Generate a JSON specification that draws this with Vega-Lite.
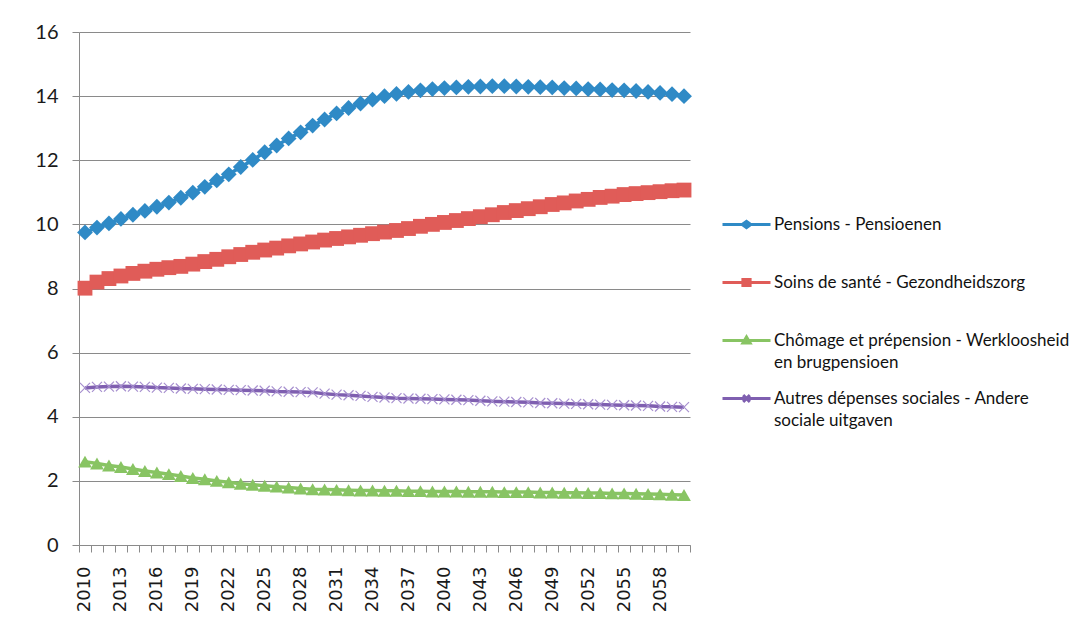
{
  "$schema": "https://vega.github.io/schema/vega-lite/v6.json",
  "autosize": {"type": "none"},
  "padding": {"left": 79, "top": 32, "right": 393, "bottom": 87},
  "width": 611,
  "height": 513,
  "background": "white",
  "config": {
    "view": {"stroke": null},
    "axis": {"labelColor": "#1a1a1a", "domainColor": "#8a8a8a", "tickColor": "#8a8a8a", "gridColor": "#8a8a8a"}
  },
  "data": {"values": [
{"year":2010,"series":"Pensions - Pensioenen","value":9.75},{"year":2011,"series":"Pensions - Pensioenen","value":9.90},{"year":2012,"series":"Pensions - Pensioenen","value":10.03},{"year":2013,"series":"Pensions - Pensioenen","value":10.17},{"year":2014,"series":"Pensions - Pensioenen","value":10.30},{"year":2015,"series":"Pensions - Pensioenen","value":10.42},{"year":2016,"series":"Pensions - Pensioenen","value":10.55},{"year":2017,"series":"Pensions - Pensioenen","value":10.68},{"year":2018,"series":"Pensions - Pensioenen","value":10.83},{"year":2019,"series":"Pensions - Pensioenen","value":10.99},
{"year":2020,"series":"Pensions - Pensioenen","value":11.17},{"year":2021,"series":"Pensions - Pensioenen","value":11.37},{"year":2022,"series":"Pensions - Pensioenen","value":11.56},{"year":2023,"series":"Pensions - Pensioenen","value":11.79},{"year":2024,"series":"Pensions - Pensioenen","value":12.01},{"year":2025,"series":"Pensions - Pensioenen","value":12.25},{"year":2026,"series":"Pensions - Pensioenen","value":12.46},{"year":2027,"series":"Pensions - Pensioenen","value":12.68},{"year":2028,"series":"Pensions - Pensioenen","value":12.87},{"year":2029,"series":"Pensions - Pensioenen","value":13.08},
{"year":2030,"series":"Pensions - Pensioenen","value":13.27},{"year":2031,"series":"Pensions - Pensioenen","value":13.46},{"year":2032,"series":"Pensions - Pensioenen","value":13.63},{"year":2033,"series":"Pensions - Pensioenen","value":13.77},{"year":2034,"series":"Pensions - Pensioenen","value":13.89},{"year":2035,"series":"Pensions - Pensioenen","value":14.00},{"year":2036,"series":"Pensions - Pensioenen","value":14.07},{"year":2037,"series":"Pensions - Pensioenen","value":14.13},{"year":2038,"series":"Pensions - Pensioenen","value":14.18},{"year":2039,"series":"Pensions - Pensioenen","value":14.22},
{"year":2040,"series":"Pensions - Pensioenen","value":14.25},{"year":2041,"series":"Pensions - Pensioenen","value":14.27},{"year":2042,"series":"Pensions - Pensioenen","value":14.29},{"year":2043,"series":"Pensions - Pensioenen","value":14.30},{"year":2044,"series":"Pensions - Pensioenen","value":14.31},{"year":2045,"series":"Pensions - Pensioenen","value":14.31},{"year":2046,"series":"Pensions - Pensioenen","value":14.30},{"year":2047,"series":"Pensions - Pensioenen","value":14.29},{"year":2048,"series":"Pensions - Pensioenen","value":14.28},{"year":2049,"series":"Pensions - Pensioenen","value":14.27},
{"year":2050,"series":"Pensions - Pensioenen","value":14.25},{"year":2051,"series":"Pensions - Pensioenen","value":14.24},{"year":2052,"series":"Pensions - Pensioenen","value":14.22},{"year":2053,"series":"Pensions - Pensioenen","value":14.21},{"year":2054,"series":"Pensions - Pensioenen","value":14.19},{"year":2055,"series":"Pensions - Pensioenen","value":14.18},{"year":2056,"series":"Pensions - Pensioenen","value":14.16},{"year":2057,"series":"Pensions - Pensioenen","value":14.13},{"year":2058,"series":"Pensions - Pensioenen","value":14.10},{"year":2059,"series":"Pensions - Pensioenen","value":14.06},{"year":2060,"series":"Pensions - Pensioenen","value":14.00},
{"year":2010,"series":"Soins de santé - Gezondheidszorg","value":8.01},{"year":2011,"series":"Soins de santé - Gezondheidszorg","value":8.20},{"year":2012,"series":"Soins de santé - Gezondheidszorg","value":8.31},{"year":2013,"series":"Soins de santé - Gezondheidszorg","value":8.39},{"year":2014,"series":"Soins de santé - Gezondheidszorg","value":8.47},{"year":2015,"series":"Soins de santé - Gezondheidszorg","value":8.54},{"year":2016,"series":"Soins de santé - Gezondheidszorg","value":8.60},{"year":2017,"series":"Soins de santé - Gezondheidszorg","value":8.65},{"year":2018,"series":"Soins de santé - Gezondheidszorg","value":8.69},{"year":2019,"series":"Soins de santé - Gezondheidszorg","value":8.76},
{"year":2020,"series":"Soins de santé - Gezondheidszorg","value":8.84},{"year":2021,"series":"Soins de santé - Gezondheidszorg","value":8.91},{"year":2022,"series":"Soins de santé - Gezondheidszorg","value":8.99},{"year":2023,"series":"Soins de santé - Gezondheidszorg","value":9.06},{"year":2024,"series":"Soins de santé - Gezondheidszorg","value":9.13},{"year":2025,"series":"Soins de santé - Gezondheidszorg","value":9.20},{"year":2026,"series":"Soins de santé - Gezondheidszorg","value":9.26},{"year":2027,"series":"Soins de santé - Gezondheidszorg","value":9.33},{"year":2028,"series":"Soins de santé - Gezondheidszorg","value":9.39},{"year":2029,"series":"Soins de santé - Gezondheidszorg","value":9.45},
{"year":2030,"series":"Soins de santé - Gezondheidszorg","value":9.51},{"year":2031,"series":"Soins de santé - Gezondheidszorg","value":9.56},{"year":2032,"series":"Soins de santé - Gezondheidszorg","value":9.61},{"year":2033,"series":"Soins de santé - Gezondheidszorg","value":9.66},{"year":2034,"series":"Soins de santé - Gezondheidszorg","value":9.71},{"year":2035,"series":"Soins de santé - Gezondheidszorg","value":9.76},{"year":2036,"series":"Soins de santé - Gezondheidszorg","value":9.81},{"year":2037,"series":"Soins de santé - Gezondheidszorg","value":9.87},{"year":2038,"series":"Soins de santé - Gezondheidszorg","value":9.94},{"year":2039,"series":"Soins de santé - Gezondheidszorg","value":10.00},
{"year":2040,"series":"Soins de santé - Gezondheidszorg","value":10.06},{"year":2041,"series":"Soins de santé - Gezondheidszorg","value":10.12},{"year":2042,"series":"Soins de santé - Gezondheidszorg","value":10.18},{"year":2043,"series":"Soins de santé - Gezondheidszorg","value":10.24},{"year":2044,"series":"Soins de santé - Gezondheidszorg","value":10.30},{"year":2045,"series":"Soins de santé - Gezondheidszorg","value":10.37},{"year":2046,"series":"Soins de santé - Gezondheidszorg","value":10.43},{"year":2047,"series":"Soins de santé - Gezondheidszorg","value":10.49},{"year":2048,"series":"Soins de santé - Gezondheidszorg","value":10.55},{"year":2049,"series":"Soins de santé - Gezondheidszorg","value":10.62},
{"year":2050,"series":"Soins de santé - Gezondheidszorg","value":10.67},{"year":2051,"series":"Soins de santé - Gezondheidszorg","value":10.73},{"year":2052,"series":"Soins de santé - Gezondheidszorg","value":10.78},{"year":2053,"series":"Soins de santé - Gezondheidszorg","value":10.84},{"year":2054,"series":"Soins de santé - Gezondheidszorg","value":10.88},{"year":2055,"series":"Soins de santé - Gezondheidszorg","value":10.93},{"year":2056,"series":"Soins de santé - Gezondheidszorg","value":10.96},{"year":2057,"series":"Soins de santé - Gezondheidszorg","value":10.99},{"year":2058,"series":"Soins de santé - Gezondheidszorg","value":11.02},{"year":2059,"series":"Soins de santé - Gezondheidszorg","value":11.05},{"year":2060,"series":"Soins de santé - Gezondheidszorg","value":11.07},
{"year":2010,"series":"Chômage et prépension - Werkloosheid en brugpensioen","value":2.60},{"year":2011,"series":"Chômage et prépension - Werkloosheid en brugpensioen","value":2.54},{"year":2012,"series":"Chômage et prépension - Werkloosheid en brugpensioen","value":2.48},{"year":2013,"series":"Chômage et prépension - Werkloosheid en brugpensioen","value":2.43},{"year":2014,"series":"Chômage et prépension - Werkloosheid en brugpensioen","value":2.37},{"year":2015,"series":"Chômage et prépension - Werkloosheid en brugpensioen","value":2.31},{"year":2016,"series":"Chômage et prépension - Werkloosheid en brugpensioen","value":2.26},{"year":2017,"series":"Chômage et prépension - Werkloosheid en brugpensioen","value":2.21},{"year":2018,"series":"Chômage et prépension - Werkloosheid en brugpensioen","value":2.15},{"year":2019,"series":"Chômage et prépension - Werkloosheid en brugpensioen","value":2.09},
{"year":2020,"series":"Chômage et prépension - Werkloosheid en brugpensioen","value":2.05},{"year":2021,"series":"Chômage et prépension - Werkloosheid en brugpensioen","value":2.00},{"year":2022,"series":"Chômage et prépension - Werkloosheid en brugpensioen","value":1.96},{"year":2023,"series":"Chômage et prépension - Werkloosheid en brugpensioen","value":1.91},{"year":2024,"series":"Chômage et prépension - Werkloosheid en brugpensioen","value":1.88},{"year":2025,"series":"Chômage et prépension - Werkloosheid en brugpensioen","value":1.85},{"year":2026,"series":"Chômage et prépension - Werkloosheid en brugpensioen","value":1.82},{"year":2027,"series":"Chômage et prépension - Werkloosheid en brugpensioen","value":1.79},{"year":2028,"series":"Chômage et prépension - Werkloosheid en brugpensioen","value":1.76},{"year":2029,"series":"Chômage et prépension - Werkloosheid en brugpensioen","value":1.74},
{"year":2030,"series":"Chômage et prépension - Werkloosheid en brugpensioen","value":1.73},{"year":2031,"series":"Chômage et prépension - Werkloosheid en brugpensioen","value":1.72},{"year":2032,"series":"Chômage et prépension - Werkloosheid en brugpensioen","value":1.71},{"year":2033,"series":"Chômage et prépension - Werkloosheid en brugpensioen","value":1.70},{"year":2034,"series":"Chômage et prépension - Werkloosheid en brugpensioen","value":1.70},{"year":2035,"series":"Chômage et prépension - Werkloosheid en brugpensioen","value":1.69},{"year":2036,"series":"Chômage et prépension - Werkloosheid en brugpensioen","value":1.69},{"year":2037,"series":"Chômage et prépension - Werkloosheid en brugpensioen","value":1.68},{"year":2038,"series":"Chômage et prépension - Werkloosheid en brugpensioen","value":1.68},{"year":2039,"series":"Chômage et prépension - Werkloosheid en brugpensioen","value":1.67},
{"year":2040,"series":"Chômage et prépension - Werkloosheid en brugpensioen","value":1.67},{"year":2041,"series":"Chômage et prépension - Werkloosheid en brugpensioen","value":1.67},{"year":2042,"series":"Chômage et prépension - Werkloosheid en brugpensioen","value":1.66},{"year":2043,"series":"Chômage et prépension - Werkloosheid en brugpensioen","value":1.66},{"year":2044,"series":"Chômage et prépension - Werkloosheid en brugpensioen","value":1.66},{"year":2045,"series":"Chômage et prépension - Werkloosheid en brugpensioen","value":1.65},{"year":2046,"series":"Chômage et prépension - Werkloosheid en brugpensioen","value":1.65},{"year":2047,"series":"Chômage et prépension - Werkloosheid en brugpensioen","value":1.65},{"year":2048,"series":"Chômage et prépension - Werkloosheid en brugpensioen","value":1.64},{"year":2049,"series":"Chômage et prépension - Werkloosheid en brugpensioen","value":1.64},
{"year":2050,"series":"Chômage et prépension - Werkloosheid en brugpensioen","value":1.63},{"year":2051,"series":"Chômage et prépension - Werkloosheid en brugpensioen","value":1.63},{"year":2052,"series":"Chômage et prépension - Werkloosheid en brugpensioen","value":1.62},{"year":2053,"series":"Chômage et prépension - Werkloosheid en brugpensioen","value":1.62},{"year":2054,"series":"Chômage et prépension - Werkloosheid en brugpensioen","value":1.61},{"year":2055,"series":"Chômage et prépension - Werkloosheid en brugpensioen","value":1.61},{"year":2056,"series":"Chômage et prépension - Werkloosheid en brugpensioen","value":1.60},{"year":2057,"series":"Chômage et prépension - Werkloosheid en brugpensioen","value":1.59},{"year":2058,"series":"Chômage et prépension - Werkloosheid en brugpensioen","value":1.58},{"year":2059,"series":"Chômage et prépension - Werkloosheid en brugpensioen","value":1.57},{"year":2060,"series":"Chômage et prépension - Werkloosheid en brugpensioen","value":1.56},
{"year":2010,"series":"Autres dépenses sociales - Andere sociale uitgaven","value":4.90},{"year":2011,"series":"Autres dépenses sociales - Andere sociale uitgaven","value":4.93},{"year":2012,"series":"Autres dépenses sociales - Andere sociale uitgaven","value":4.94},{"year":2013,"series":"Autres dépenses sociales - Andere sociale uitgaven","value":4.95},{"year":2014,"series":"Autres dépenses sociales - Andere sociale uitgaven","value":4.94},{"year":2015,"series":"Autres dépenses sociales - Andere sociale uitgaven","value":4.93},{"year":2016,"series":"Autres dépenses sociales - Andere sociale uitgaven","value":4.91},{"year":2017,"series":"Autres dépenses sociales - Andere sociale uitgaven","value":4.90},{"year":2018,"series":"Autres dépenses sociales - Andere sociale uitgaven","value":4.88},{"year":2019,"series":"Autres dépenses sociales - Andere sociale uitgaven","value":4.87},
{"year":2020,"series":"Autres dépenses sociales - Andere sociale uitgaven","value":4.86},{"year":2021,"series":"Autres dépenses sociales - Andere sociale uitgaven","value":4.85},{"year":2022,"series":"Autres dépenses sociales - Andere sociale uitgaven","value":4.84},{"year":2023,"series":"Autres dépenses sociales - Andere sociale uitgaven","value":4.83},{"year":2024,"series":"Autres dépenses sociales - Andere sociale uitgaven","value":4.82},{"year":2025,"series":"Autres dépenses sociales - Andere sociale uitgaven","value":4.81},{"year":2026,"series":"Autres dépenses sociales - Andere sociale uitgaven","value":4.79},{"year":2027,"series":"Autres dépenses sociales - Andere sociale uitgaven","value":4.78},{"year":2028,"series":"Autres dépenses sociales - Andere sociale uitgaven","value":4.77},{"year":2029,"series":"Autres dépenses sociales - Andere sociale uitgaven","value":4.76},
{"year":2030,"series":"Autres dépenses sociales - Andere sociale uitgaven","value":4.72},{"year":2031,"series":"Autres dépenses sociales - Andere sociale uitgaven","value":4.69},{"year":2032,"series":"Autres dépenses sociales - Andere sociale uitgaven","value":4.67},{"year":2033,"series":"Autres dépenses sociales - Andere sociale uitgaven","value":4.65},{"year":2034,"series":"Autres dépenses sociales - Andere sociale uitgaven","value":4.62},{"year":2035,"series":"Autres dépenses sociales - Andere sociale uitgaven","value":4.60},{"year":2036,"series":"Autres dépenses sociales - Andere sociale uitgaven","value":4.58},{"year":2037,"series":"Autres dépenses sociales - Andere sociale uitgaven","value":4.57},{"year":2038,"series":"Autres dépenses sociales - Andere sociale uitgaven","value":4.56},{"year":2039,"series":"Autres dépenses sociales - Andere sociale uitgaven","value":4.55},
{"year":2040,"series":"Autres dépenses sociales - Andere sociale uitgaven","value":4.54},{"year":2041,"series":"Autres dépenses sociales - Andere sociale uitgaven","value":4.53},{"year":2042,"series":"Autres dépenses sociales - Andere sociale uitgaven","value":4.52},{"year":2043,"series":"Autres dépenses sociales - Andere sociale uitgaven","value":4.50},{"year":2044,"series":"Autres dépenses sociales - Andere sociale uitgaven","value":4.48},{"year":2045,"series":"Autres dépenses sociales - Andere sociale uitgaven","value":4.47},{"year":2046,"series":"Autres dépenses sociales - Andere sociale uitgaven","value":4.46},{"year":2047,"series":"Autres dépenses sociales - Andere sociale uitgaven","value":4.45},{"year":2048,"series":"Autres dépenses sociales - Andere sociale uitgaven","value":4.43},{"year":2049,"series":"Autres dépenses sociales - Andere sociale uitgaven","value":4.42},
{"year":2050,"series":"Autres dépenses sociales - Andere sociale uitgaven","value":4.41},{"year":2051,"series":"Autres dépenses sociales - Andere sociale uitgaven","value":4.40},{"year":2052,"series":"Autres dépenses sociales - Andere sociale uitgaven","value":4.39},{"year":2053,"series":"Autres dépenses sociales - Andere sociale uitgaven","value":4.38},{"year":2054,"series":"Autres dépenses sociales - Andere sociale uitgaven","value":4.37},{"year":2055,"series":"Autres dépenses sociales - Andere sociale uitgaven","value":4.36},{"year":2056,"series":"Autres dépenses sociales - Andere sociale uitgaven","value":4.35},{"year":2057,"series":"Autres dépenses sociales - Andere sociale uitgaven","value":4.34},{"year":2058,"series":"Autres dépenses sociales - Andere sociale uitgaven","value":4.32},{"year":2059,"series":"Autres dépenses sociales - Andere sociale uitgaven","value":4.31},{"year":2060,"series":"Autres dépenses sociales - Andere sociale uitgaven","value":4.30}
  ]},
  "encoding": {
    "x": {
      "field": "year", "type": "ordinal",
      "scale": {"type": "band", "paddingInner": 0, "paddingOuter": 0},
      "axis": {
        "title": null, "labelAngle": -90, "labelFont": "DejaVu Sans", "labelFontSize": 18,
        "tickBand": "extent", "tickSize": 7, "labelPadding": 14, "labelOverlap": false,
        "labelExpr": "(datum.value - 2010) % 3 == 0 ? datum.label : ''", "grid": false
      }
    },
    "y": {
      "field": "value", "type": "quantitative",
      "scale": {"domain": [0, 16], "nice": false, "zero": true},
      "axis": {
        "title": null, "values": [0, 2, 4, 6, 8, 10, 12, 14, 16], "grid": true,
        "labelFont": "Lato", "labelFontSize": 20, "tickSize": 7, "labelPadding": 14
      }
    },
    "color": {
      "field": "series", "type": "nominal",
      "scale": {
        "domain": ["Pensions - Pensioenen", "Soins de santé - Gezondheidszorg", "Chômage et prépension - Werkloosheid en brugpensioen", "Autres dépenses sociales - Andere sociale uitgaven"],
        "range": ["#2f8ac6", "#e05c58", "#88c463", "#7f5fb0"]
      }
    }
  },
  "layer": [
    {
      "mark": {"type": "line", "strokeWidth": 3.5},
      "encoding": {
        "color": {
          "field": "series", "type": "nominal",
          "legend": {
            "orient": "none", "legendX": 642, "legendY": 167, "title": null,
            "labelFont": "Lato", "labelFontSize": 17, "labelColor": "#111",
            "symbolSize": 2304, "symbolStrokeWidth": 3, "labelOffset": 2, "rowPadding": 2,
            "labelLimit": 400,
            "labelExpr": "datum.label == 'Chômage et prépension - Werkloosheid en brugpensioen' ? ['Chômage et prépension - Werkloosheid', 'en brugpensioen'] : datum.label == 'Autres dépenses sociales - Andere sociale uitgaven' ? ['Autres dépenses sociales - Andere', 'sociale uitgaven'] : [datum.label, ' ']",
            "encode": {
              "labels": {"update": {"lineHeight": {"value": 22}}},
              "symbols": {"update": {
                "shape": {"signal": "datum.index == 0 ? 'M-1,0L1,0M-0.18,0L0,-0.13L0.18,0L0,0.13Z' : datum.index == 1 ? 'M-1,0L1,0M-0.15,-0.13L0.15,-0.13L0.15,0.13L-0.15,0.13Z' : datum.index == 2 ? 'M-1,0L1,0M-0.15,0.1L0,-0.15L0.15,0.1Z' : 'M-1,0L1,0M-0.14,-0.14L0.14,0.14M-0.14,0.14L0.14,-0.14'"},
                "strokeWidth": {"value": 3}
              }}
            }
          }
        }
      }
    },
    {
      "transform": [{"filter": "datum.series != 'Autres dépenses sociales - Andere sociale uitgaven'"}],
      "mark": {"type": "point", "filled": true, "opacity": 1},
      "encoding": {
        "color": {"field": "series", "type": "nominal", "legend": null},
        "shape": {
          "field": "series", "type": "nominal", "legend": null,
          "scale": {
            "domain": ["Pensions - Pensioenen", "Soins de santé - Gezondheidszorg", "Chômage et prépension - Werkloosheid en brugpensioen"],
            "range": ["diamond", "square", "triangle-up"]
          }
        },
        "size": {
          "field": "series", "type": "nominal", "legend": null,
          "scale": {
            "domain": ["Pensions - Pensioenen", "Soins de santé - Gezondheidszorg", "Chômage et prépension - Werkloosheid en brugpensioen"],
            "range": [250, 190, 215]
          }
        }
      }
    },
    {
      "transform": [{"filter": "datum.series == 'Autres dépenses sociales - Andere sociale uitgaven'"}],
      "mark": {"type": "point", "filled": false, "shape": "M-1,-1L1,1M-1,1L1,-1", "size": 100, "stroke": "#a790cf", "strokeWidth": 1.2, "opacity": 1},
      "encoding": {}
    }
  ]
}
